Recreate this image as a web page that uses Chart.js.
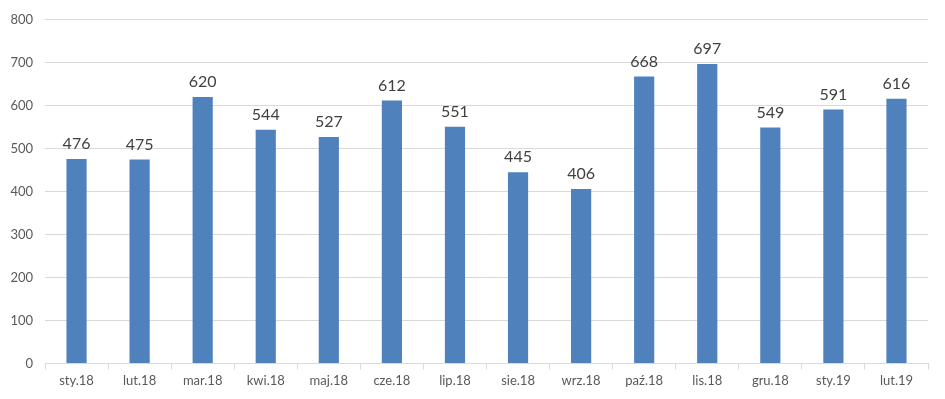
<!DOCTYPE html>
<html>
<head>
<meta charset="utf-8">
<script src="https://cdn.jsdelivr.net/npm/chart.js@4"></script>
<style>
  html, body { margin: 0; padding: 0; background: #fff; }
  #wrap { width: 945px; height: 399px; }
</style>
</head>
<body>
<div id="wrap"><canvas id="canvas"></canvas></div>
<script>
var categories = ['sty.18', 'lut.18', 'mar.18', 'kwi.18', 'maj.18', 'cze.18', 'lip.18', 'sie.18', 'wrz.18', 'paź.18', 'lis.18', 'gru.18', 'sty.19', 'lut.19'];
var values = [476, 475, 620, 544, 527, 612, 551, 445, 406, 668, 697, 549, 591, 616];
var yTicks = [0, 100, 200, 300, 400, 500, 600, 700, 800];

var barBlue = '#4f81bd';
var gridGrey = '#d9d9d9';
var fontFamily = 'Lato, "Open Sans", sans-serif';

// draws the value above each bar
var valueLabels = {
    id: 'valueLabels',
    afterDatasetsDraw: function(chart) {
        var ctx = chart.ctx;
        var meta = chart.getDatasetMeta(0);
        ctx.save();
        ctx.font = '16px ' + fontFamily;
        ctx.fillStyle = '#404040';
        ctx.textAlign = 'center';
        ctx.textBaseline = 'bottom';
        meta.data.forEach(function(bar, i) {
            ctx.fillText(values[i], bar.x, bar.y - 7);
        });
        ctx.restore();
    }
};

window.onload = function() {
    var ctx = document.getElementById('canvas').getContext('2d');
    window.myBar = new Chart(ctx, {
        type: 'bar',
        data: {
            labels: categories,
            datasets: [{
                data: values,
                backgroundColor: barBlue,
                barPercentage: 0.32,
                categoryPercentage: 1
            }]
        },
        options: {
            responsive: true,
            maintainAspectRatio: false,
            animation: false,
            layout: { padding: { top: 9, right: 17, bottom: 6, left: 0 } },
            plugins: {
                legend: { display: false },
                tooltip: { enabled: false }
            },
            scales: {
                x: {
                    grid: { drawOnChartArea: false, drawTicks: true, tickLength: 6, color: gridGrey },
                    border: { color: gridGrey },
                    ticks: { color: '#595959', font: { family: fontFamily, size: 13 }, padding: 4 }
                },
                y: {
                    min: 0,
                    max: 800,
                    afterBuildTicks: function(axis) {
                        axis.ticks = yTicks.map(function(v) { return { value: v }; });
                    },
                    afterFit: function(axis) { axis.width = 45; },
                    grid: { color: gridGrey, drawTicks: false },
                    border: { display: false },
                    ticks: { color: '#595959', font: { family: fontFamily, size: 13 }, padding: 12 }
                }
            }
        },
        plugins: [valueLabels]
    });
};
</script>
</body>
</html>
